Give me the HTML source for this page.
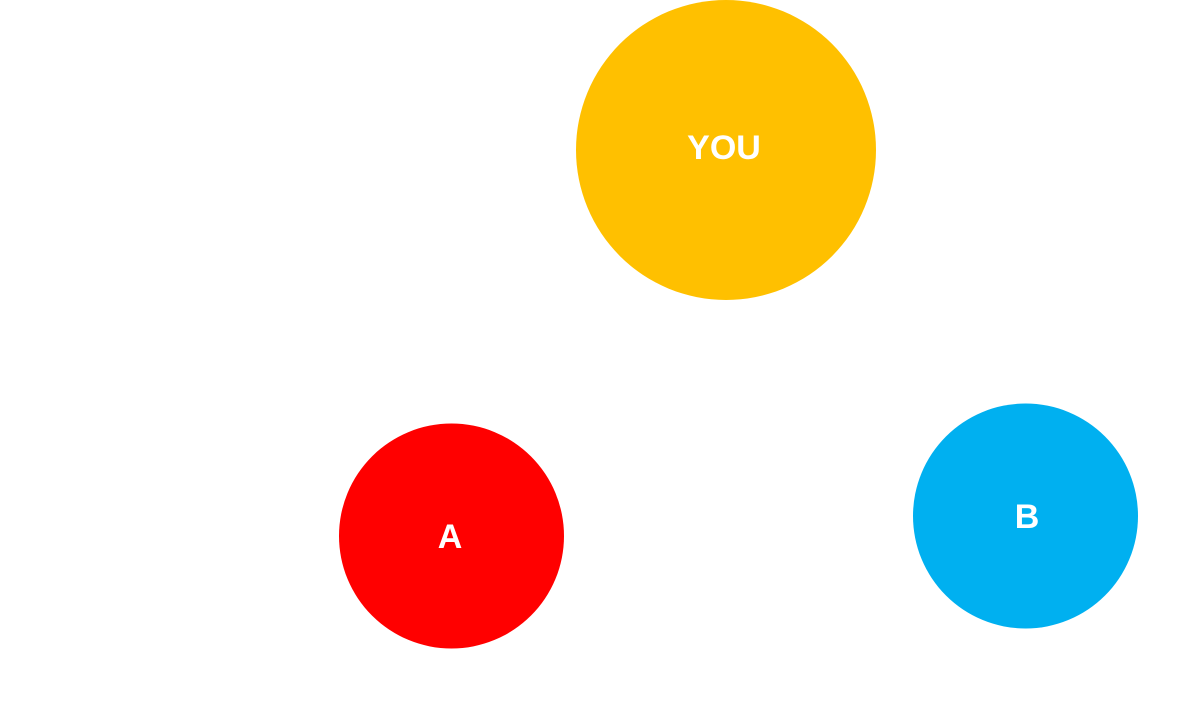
<!DOCTYPE html>
<html><head><style>
html,body{margin:0;padding:0;background:#fff;}
</style></head><body>
<svg width="1189" height="712" xmlns="http://www.w3.org/2000/svg">
<circle cx="726" cy="150" r="150" fill="#FFC000"/>
<circle cx="451.5" cy="536" r="112.5" fill="#FF0000"/>
<circle cx="1025.5" cy="516" r="112.5" fill="#00B0F0"/>
<g font-family="Liberation Sans, DejaVu Sans, sans-serif" font-weight="bold" font-size="34" fill="#fff" text-anchor="middle">
<text x="724" y="159">YOU</text>
<text x="450" y="548">A</text>
<text x="1027" y="528">B</text>
</g>
</svg>
</body></html>
